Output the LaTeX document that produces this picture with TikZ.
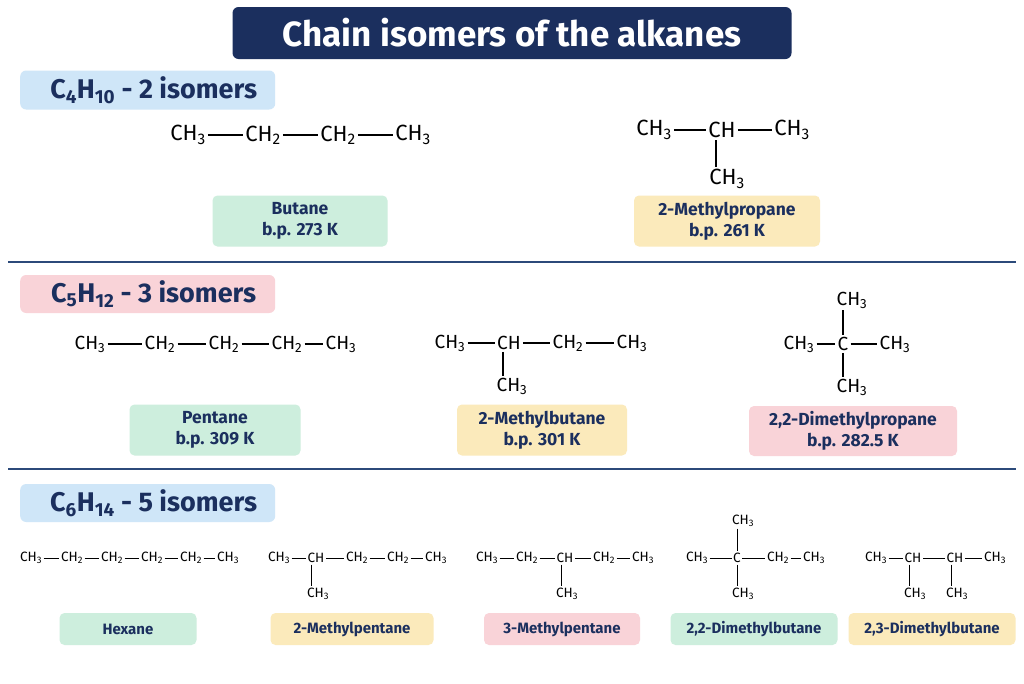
\documentclass[tikz,border=0pt]{standalone}
\usepackage{fontspec}
\setmainfont{Fira Sans}
\newcommand\mthree{CH\textsubscript{3}}
\newcommand\mtwo{CH\textsubscript{2}}
\definecolor{navy}{HTML}{1B2F5E}
\definecolor{bluebg}{HTML}{CFE6F8}
\definecolor{greenbg}{HTML}{CDEEDD}
\definecolor{yellowbg}{HTML}{FBEABB}
\definecolor{pinkbg}{HTML}{F9D3D8}
\definecolor{sep}{HTML}{2C4A7A}
\begin{document}
\begin{tikzpicture}[x=1pt,y=-1pt,
  grpL/.style={inner sep=2pt,font=\fontsize{22}{24}\selectfont,text=black},
  grpM/.style={inner sep=2pt,font=\fontsize{19}{21}\selectfont,text=black},
  grpS/.style={inner sep=1.5pt,font=\fontsize{13.5}{15}\selectfont,text=black},
  bond/.style={line width=1.3pt,black},
  bondS/.style={line width=0.9pt,black},
  lab/.style={rounded corners=5pt,text=navy,align=center,font=\fontsize{17.5}{21}\selectfont\bfseries,inner sep=0pt},
  slab/.style={lab,font=\fontsize{15}{17}\selectfont\bfseries,minimum height=32pt},
  head/.style={rounded corners=6pt,fill=bluebg,text=navy,font=\fontsize{27}{29}\selectfont\bfseries,inner sep=0pt,anchor=west},
  sepline/.style={sep,line width=1.3pt}]
\useasboundingbox (0,0) rectangle (1024,683);
\fill[white] (0,0) rectangle (1024,683);
% title
\node[fill=navy,rounded corners=6pt,minimum width=559pt,minimum height=52pt,text=white,font=\fontsize{35}{38}\selectfont\bfseries] (title) at (512,33) {Chain isomers of the alkanes};
% section headers
\node[head,minimum width=255pt,minimum height=39pt] (h4) at (20,90) {\hspace{12pt}C\textsubscript{4}H\textsubscript{10} - 2 isomers\hfill};
\node[head,fill=pinkbg,minimum width=255pt,minimum height=38pt] (h5) at (20,294) {\hspace{12pt}C\textsubscript{5}H\textsubscript{12} - 3 isomers};
\node[head,minimum width=255pt,minimum height=38pt] (h6) at (20,503) {\hspace{12pt}C\textsubscript{6}H\textsubscript{14} - 5 isomers};
\draw[sepline] (8,262) -- (1016,262);
\draw[sepline] (8,469) -- (1016,469);
% ---- butane
\node[grpL] (b1) at (188,135) {\mthree};
\node[grpL] (b2) at (263,135) {\mtwo};
\node[grpL] (b3) at (338,135) {\mtwo};
\node[grpL] (b4) at (413,135) {\mthree};
\draw[bond] (b1) -- (b2) (b2) -- (b3) (b3) -- (b4);
\node[lab,fill=greenbg,minimum width=175pt,minimum height=51pt] (lb) at (300,221) {Butane\\b.p. 273 K};
% ---- 2-methylpropane
\node[grpL] (m1) at (654,130) {\mthree};
\node[grpL] (m2) at (722,130) {CH};
\node[grpL] (m3) at (792,130) {\mthree};
\node[grpL] (m4) at (727,179) {\mthree};
\draw[bond] (m1) -- (m2) (m2) -- (m3);
\draw[bond] (m2.south -| 716,0) -- (m4.north -| 716,0);
\node[lab,fill=yellowbg,minimum width=186pt,minimum height=51pt] (lm) at (727,221) {2-Methylpropane\\b.p. 261 K};
% ---- pentane
\node[grpM] (p1) at (90,344) {\mthree};
\node[grpM] (p2) at (160,344) {\mtwo};
\node[grpM] (p3) at (224,344) {\mtwo};
\node[grpM] (p4) at (287,344) {\mtwo};
\node[grpM] (p5) at (341,344) {\mthree};
\draw[bond] (p1) -- (p2) (p2) -- (p3) (p3) -- (p4) (p4) -- (p5);
\node[lab,fill=greenbg,minimum width=171pt,minimum height=51pt] (lp) at (215,430) {Pentane\\b.p. 309 K};
% ---- 2-methylbutane
\node[grpM] (q1) at (450,343) {\mthree};
\node[grpM] (q2) at (509,343) {CH};
\node[grpM] (q3) at (568,343) {\mtwo};
\node[grpM] (q4) at (632,343) {\mthree};
\node[grpM] (q5) at (512,386) {\mthree};
\draw[bond] (q1) -- (q2) (q2) -- (q3) (q3) -- (q4);
\draw[bond] (q2.south -| 503,0) -- (q5.north -| 503,0);
\node[lab,fill=yellowbg,minimum width=170pt,minimum height=51pt] (lq) at (542,430) {2-Methylbutane\\b.p. 301 K};
% ---- 2,2-dimethylpropane
\node[grpM] (d0) at (852,300) {\mthree};
\node[grpM] (d1) at (799,344) {\mthree};
\node[grpM] (d2) at (843,344) {C};
\node[grpM] (d3) at (895,344) {\mthree};
\node[grpM] (d4) at (852,387) {\mthree};
\draw[bond] (d1) -- (d2) (d2) -- (d3);
\draw[bond] (d0.south -| d2) -- (d2.north) (d2.south) -- (d4.north -| d2);
\node[lab,fill=pinkbg,minimum width=208pt,minimum height=50pt] (ld) at (853,431) {2,2-Dimethylpropane\\b.p. 282.5 K};
% ---- hexane
\node[grpS] (x1) at (31,558) {\mthree};
\node[grpS] (x2) at (72,558) {\mtwo};
\node[grpS] (x3) at (112,558) {\mtwo};
\node[grpS] (x4) at (152,558) {\mtwo};
\node[grpS] (x5) at (191,558) {\mtwo};
\node[grpS] (x6) at (228,558) {\mthree};
\draw[bondS] (x1) -- (x2) (x2) -- (x3) (x3) -- (x4) (x4) -- (x5) (x5) -- (x6);
\node[slab,fill=greenbg,minimum width=137pt] (lx) at (128,629) {Hexane};
% ---- 2-methylpentane
\node[grpS] (y1) at (279,558) {\mthree};
\node[grpS] (y2) at (316,558) {CH};
\node[grpS] (y3) at (357,558) {\mtwo};
\node[grpS] (y4) at (398,558) {\mtwo};
\node[grpS] (y5) at (436,558) {\mthree};
\node[grpS] (y6) at (318,594) {\mthree};
\draw[bondS] (y1) -- (y2) (y2) -- (y3) (y3) -- (y4) (y4) -- (y5);
\draw[bondS] (y2.south -| 311,0) -- (y6.north -| 311,0);
\node[slab,fill=yellowbg,minimum width=163pt] (ly) at (352,629) {2-Methylpentane};
% ---- 3-methylpentane
\node[grpS] (z1) at (487,558) {\mthree};
\node[grpS] (z2) at (527,558) {\mtwo};
\node[grpS] (z3) at (565,558) {CH};
\node[grpS] (z4) at (604,558) {\mtwo};
\node[grpS] (z5) at (643,558) {\mthree};
\node[grpS] (z6) at (567,594) {\mthree};
\draw[bondS] (z1) -- (z2) (z2) -- (z3) (z3) -- (z4) (z4) -- (z5);
\draw[bondS] (z3.south -| 561,0) -- (z6.north -| 561,0);
\node[slab,fill=pinkbg,minimum width=156pt] (lz) at (562,629) {3-Methylpentane};
% ---- 2,2-dimethylbutane
\node[grpS] (w0) at (743,521) {\mthree};
\node[grpS] (w1) at (697,558) {\mthree};
\node[grpS] (w2) at (737,558) {C};
\node[grpS] (w3) at (778,558) {\mtwo};
\node[grpS] (w4) at (814,558) {\mthree};
\node[grpS] (w5) at (743,594) {\mthree};
\draw[bondS] (w1) -- (w2) (w2) -- (w3) (w3) -- (w4);
\draw[bondS] (w0.south -| w2) -- (w2.north) (w2.south) -- (w5.north -| w2);
\node[slab,fill=greenbg,minimum width=167pt] (lw) at (754,629) {2,2-Dimethylbutane};
% ---- 2,3-dimethylbutane
\node[grpS] (v1) at (876,558) {\mthree};
\node[grpS] (v2) at (913,558) {CH};
\node[grpS] (v3) at (955,558) {CH};
\node[grpS] (v4) at (995,558) {\mthree};
\node[grpS] (v5) at (915,594) {\mthree};
\node[grpS] (v6) at (957,594) {\mthree};
\draw[bondS] (v1) -- (v2) (v2) -- (v3) (v3) -- (v4);
\draw[bondS] (v2.south -| 909,0) -- (v5.north -| 909,0);
\draw[bondS] (v3.south -| 951,0) -- (v6.north -| 951,0);
\node[slab,fill=yellowbg,minimum width=167pt] (lv) at (932,629) {2,3-Dimethylbutane};
\end{tikzpicture}
\end{document}
